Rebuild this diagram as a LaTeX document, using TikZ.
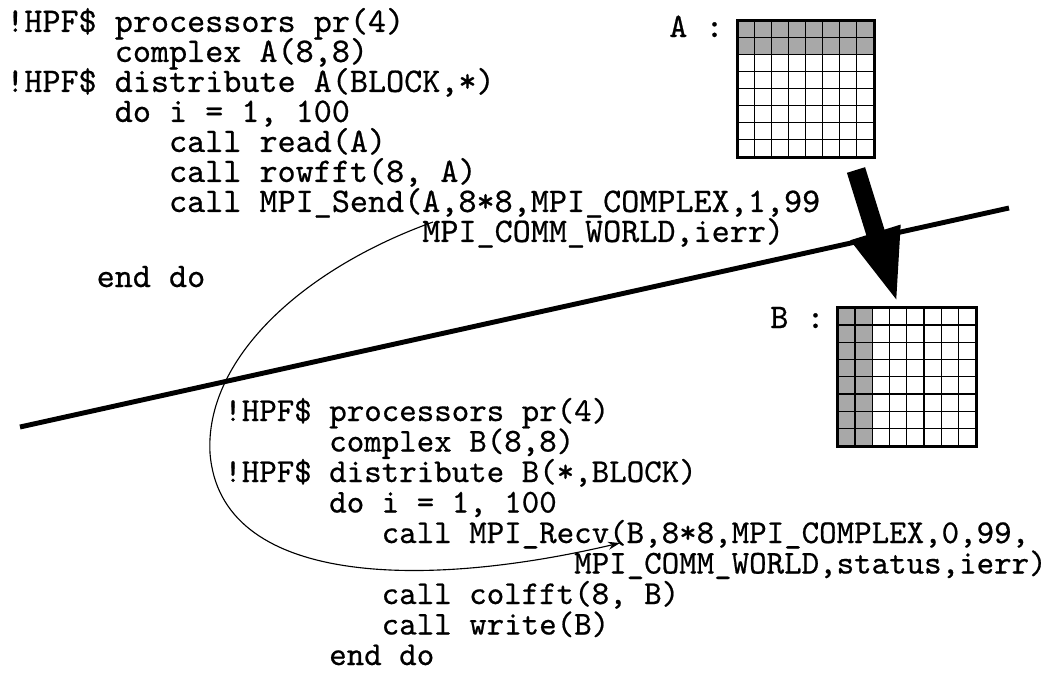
\documentclass[tikz,border=0pt]{standalone}
\usepackage{fontspec}
\usepackage{xcolor}
\usepackage{tikz}
\usetikzlibrary{arrows.meta,calc}
\newfontfamily\codefont{lmmono10-regular.otf}[FakeBold=0.6]
\definecolor{cellshade}{RGB}{168,168,168}
\newcommand{\cols}[1]{\hspace*{#1\fontcharwd\font`a}}
\setlength{\lineskiplimit}{-100pt}
\frenchspacing

\begin{document}
\begin{tikzpicture}[x=0.025cm,y=-0.025cm,
    sendcode/.style={font=\fontsize{24.5}{21.34}\selectfont\codefont, align=left, anchor=base west, inner sep=0pt},
    recvcode/.style={font=\fontsize{23.7}{21.69}\selectfont\codefont, align=left, anchor=base west, inner sep=0pt},
    matrixbox/.style={minimum width=3.4cm, minimum height=3.4cm, inner sep=0pt},
    matrixframe/.style={line width=2pt},
    cellline/.style={line width=0.9pt},
    cutline/.style={line width=3.5pt},
    msgline/.style={line width=0.8pt, -{Stealth[length=0.3cm,width=0.2cm]}},
    bigarrow/.style={line width=0.475cm, -{Triangle[length=1.9cm,width=1.15cm]}}]
    \useasboundingbox (0,0) rectangle (1054,673);

        % Sender code (placed by the baseline of its last line)
        \node[sendcode] (sendprog) at (6,287) {!HPF\$ processors pr(4)\\
            \cols{6}complex A(8,8)\\
            !HPF\$ distribute A(BLOCK,*)\\
            \cols{6}do i = 1, 100\\
            \cols{9}call read(A)\\
            \cols{9}call rowfft(8, A)\\
            \cols{9}call MPI\_Send(A,8*8,MPI\_COMPLEX,1,99\\
            \cols{23}MPI\_COMM\_WORLD,ierr)\\[10.7pt]
            \cols{5}end do};

        % Receiver code
        \node[recvcode] (recvprog) at (224,665) {!HPF\$ processors pr(4)\\
            \cols{6}complex B(8,8)\\
            !HPF\$ distribute B(*,BLOCK)\\
            \cols{6}do i = 1, 100\\
            \cols{9}call MPI\_Recv(B,8*8,MPI\_COMPLEX,0,99,\\
            \cols{20}MPI\_COMM\_WORLD,status,ierr)\\
            \cols{9}call colfft(8, B)\\
            \cols{9}call write(B)\\
            \cols{6}end do};

        % Matrix A (row blocks)
        \node[sendcode] (labelA) at (669,37) {A :};
        \node[matrixbox] (gridA) at (806,89) {};
        \fill[cellshade] (gridA.north west) rectangle ($(gridA.north east)+(0,34)$);
        \foreach \k in {1,...,7} {
            \draw[cellline] ($(gridA.north west)+(\k*17,0)$) -- ($(gridA.south west)+(\k*17,0)$);
            \draw[cellline] ($(gridA.north west)+(0,\k*17)$) -- ($(gridA.north east)+(0,\k*17)$);
        }
        \draw[matrixframe] (gridA.north west) rectangle (gridA.south east);

        % Matrix B (column blocks)
        \node[sendcode] (labelB) at (770,328) {B :};
        \node[matrixbox, minimum width=3.45cm, minimum height=3.45cm] (gridB) at (907,377) {};
        \fill[cellshade] (gridB.north west) rectangle ($(gridB.south west)+(34.5,0)$);
        \foreach \k in {1,...,7} {
            \draw[cellline] ($(gridB.north west)+(\k*17.25,0)$) -- ($(gridB.south west)+(\k*17.25,0)$);
            \draw[cellline] ($(gridB.north west)+(0,\k*17.25)$) -- ($(gridB.north east)+(0,\k*17.25)$);
        }
        \draw[matrixframe] (gridB.north west) rectangle (gridB.south east);

        % Redistribution
        \coordinate (flowtail) at (856,170);
        \coordinate (flowtip) at (898,305);
        \draw[bigarrow] (flowtail) -- (flowtip);

        % Processor boundary
        \coordinate (cutL) at (20,427);
        \coordinate (cutR) at (1009,208);
        \draw[cutline] (cutL) -- (cutR);

        % Message
        \coordinate (sendA) at (433,222);
        \coordinate (recvB) at (620,543);
        \draw[msgline] (sendA) .. controls (300,270) and (205,360) .. (210,453) .. controls (220,585) and (420,590) .. (recvB);
\end{tikzpicture}
\end{document}
